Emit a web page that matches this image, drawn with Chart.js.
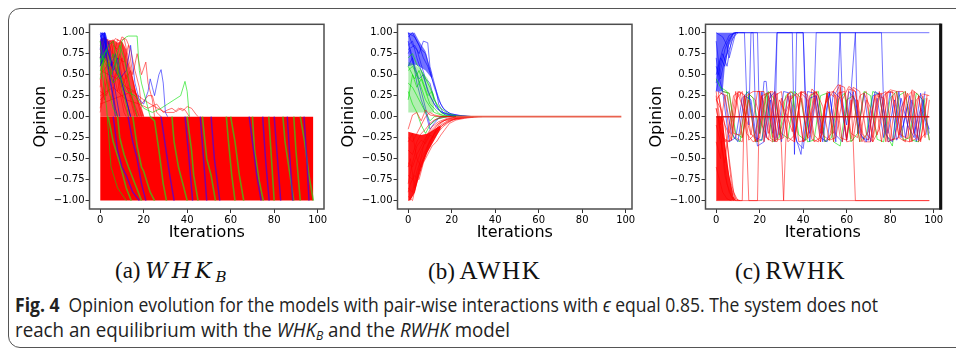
<!DOCTYPE html>
<html>
<head>
<meta charset="utf-8">
<script src="https://cdn.jsdelivr.net/npm/chart.js@4.4.1/dist/chart.umd.min.js"></script>
<style>
  html, body { margin: 0; padding: 0; background: #fff; }
  body { width: 956px; height: 350px; overflow: hidden; position: relative; }
  .frame { position: absolute; left: 8px; top: 8px; width: 1000px; height: 338px; border: 1.5px solid #555; border-radius: 12px; }
  .panel { position: absolute; top: 0; width: 309px; height: 250px; }
  .sub { position: absolute; top: 257px; font-family: "Liberation Serif", "DejaVu Serif", serif; font-size: 23px; line-height: 28px; color: #111; white-space: nowrap; }
  .sub .m { font-family: "DejaVu Serif", serif; font-style: italic; font-size: 22px; }
  .sub .rm { font-size: 25px; }
  .sub sub { font-family: "DejaVu Serif", serif; font-size: 15px; vertical-align: -4px; line-height: 0; font-style: italic; }
  .cap { position: absolute; left: 15px; font-family: "Open Sans", sans-serif; font-size: 20px; line-height: 24px; color: #222; white-space: nowrap; transform-origin: 0 50%; }
  .cap sub { font-size: 13px; vertical-align: -3px; line-height: 0; }
</style>
</head>
<body>
<div class="frame"></div>
<div class="panel" style="left:29px"><canvas id="chartA" width="309" height="250"></canvas></div>
<div class="panel" style="left:337px"><canvas id="chartB" width="309" height="250"></canvas></div>
<div class="panel" style="left:645px"><canvas id="chartC" width="309" height="250"></canvas></div>

<div class="sub" id="subA" style="left:115px">(a)&#8201;<span class="m" id="subAm">WHK</span><sub>B</sub></div>
<div class="sub" id="subB" style="left:428px">(b)&#8201;<span class="rm" id="subBm">AWHK</span></div>
<div class="sub" id="subC" style="left:735px">(c)&#8201;<span class="rm" id="subCm">RWHK</span></div>

<div class="cap" id="cap1" style="top:293px"><b>Fig. 4</b>&nbsp; Opinion evolution for the models with pair-wise interactions with <i>ϵ</i> equal 0.85. The system does not</div>
<div class="cap" id="cap2" style="top:318px">reach an equilibrium with the <i>WHK<sub>B</sub></i> and the <i>RWHK</i> model</div>

<script>
// axes
const xTicks = [0, 20, 40, 60, 80, 100]
const yTicks = [-1, -0.75, -0.5, -0.25, 0, 0.25, 0.5, 0.75, 1]
const xRange = [-4.9, 102.9]
const yRange = [-1.1, 1.1]

// ---- (a) WHK_B ----
const aBlockTop = [[0, 0], [98, 0]]
const aBlockBottom = [[0, -1], [98, -1]]
const aRedBulkTop = [[0,0.92],[2,0.95],[4,0.9],[6,0.92],[8,0.88],[10,0.9],[12,0.8],[13,0.65],[15,0.45],[17,0.25],[19,0.08],[20,0]]
const aRedBulkBottom = [[0,0],[20,0]]
const aBlueBulkTop = [[0,1],[2.5,1],[3.5,0.9]]
const aBlueBulkBottom = [[0,0.6],[2.5,0.7],[3.5,0.9]]
const aRed = [
  [[0,0.35],[1,0.55],[3,0.92],[5,0.9],[7,0.6],[9,0.3],[11,0.05],[12,0]],
  [[0,0.7],[2,0.95],[4,0.85],[6,0.9],[8,0.75],[10,0.5],[12,0.2],[14,0]],
  [[0,0.1],[2,0.4],[4,0.88],[6,0.7],[8,0.92],[10,0.88],[12,0.6],[14,0.3],[16,0.1],[17,0]],
  [[0,0.5],[3,0.6],[5,0.85],[7,0.93],[9,0.9],[11,0.93],[13,0.7],[15,0.45],[17,0.2],[19,0]],
  [[0,0.85],[1,0.9],[3,0.7],[5,0.5],[7,0.75],[9,0.4],[11,0.15],[13,0]],
  [[0,0.2],[4,0.3],[6,0.85],[8,0.8],[10,0.95],[12,0.92],[14,0.8],[16,0.55],[18,0.35],[19,0.1],[20,0]],
  [[0,0.6],[2,0.75],[4,0.55],[6,0.4],[8,0.6],[10,0.35],[12,0.5],[14,0.25],[16,0.05],[17,0]],
  [[0,0.45],[2,0.2],[4,0.65],[6,0.35],[7,0.1],[8,0]],
  [[0,0.9],[2,0.8],[4,0.6],[6,0.65],[8,0.5],[10,0.7],[12,0.45],[14,0.55],[16,0.3],[18,0.15],[20,0]],
  [[0,0.3],[3,0.25],[5,0.6],[8,0.7],[11,0.65],[13,0.85],[15,0.5],[17,0.75],[19,0.5],[21,0.65],[22,0.4],[24,0.2],[25,0]],
  [[0,0.55],[4,0.5],[8,0.45],[12,0.35],[16,0.3],[19,0.15],[22,0.25],[24,0.25],[26,0.05],[28,0]],
  [[0,0.15],[5,0.2],[10,0.25],[15,0.3],[20,0.2],[25,0.12],[30,0.05],[34,0.05],[36,0.1],[38,0.07],[40,0.12],[42,0.1],[44,0.03],[45,0]],
  [[0,0.8],[2,0.65],[4,0.8],[6,0.55],[8,0.3],[10,0.5],[12,0.35],[15,0.2],[18,0]],
  [[0,0.05],[3,0.45],[5,0.2],[7,0.45],[9,0.75],[11,0.55],[13,0.3],[15,0.1],[16,0]],
  [[0,0.25],[6,0.35],[12,0.2],[18,0.15],[22,0.1],[26,0.15],[29,0.05],[31,0.08],[33,0.1],[35,0.06],[37,0.1],[39,0.08],[41,0]]
]
const aGreen = [
  [[0,0.55],[2,0.7],[4,0.6],[6,0.75],[8,0.5],[10,0.9],[12,0.95],[13,0.96],[17,0.96],[18,0.55],[19,0.4],[21,0.2],[23,0]],
  [[0,0.75],[3,0.6],[6,0.4],[9,0.5],[12,0.3],[16,0.25],[20,0.1],[24,0.05],[28,0.1],[31,0.15],[34,0.2],[37,0.25],[39,0.42],[40,0.3],[41,0]],
  [[0,0.9],[2,0.55],[4,0.3],[6,0.1],[8,0]],
  [[0,0.45],[2,0.75],[4,0.85],[6,0.9],[8,0.6],[10,0.35],[12,0.15],[13,0]],
  [[0,0.65],[3,0.8],[5,0.5],[7,0.65],[9,0.85],[11,0.7],[13,0.45],[15,0.2],[17,0]],
  [[0,0.7],[1,0.5],[3,0.1],[5,-0.6],[8,-0.85],[12,-1]]
]
const aBlue = [
  [[0,1],[1,0.98],[2,0.95],[3,0.7],[5,0.4],[7,0.1],[8,0]],
  [[0,0.95],[2,1],[3,0.85],[5,0.6],[7,0.75],[9,0.5],[11,0.3],[13,0.1],[14,0]],
  [[0,0.8],[1,1],[2,0.97],[4,0.5],[6,0.2],[7,0]],
  [[0,0.6],[3,0.8],[6,0.6],[9,0.45],[12,0.55],[14,0.85],[16,0.4],[18,0.2],[20,0.15],[22,0.3],[23,0.45],[24,0.35],[25,0.25],[27,0.5],[28,0.56],[29,0.4],[30,0.05],[31,0]],
  [[0,0.7],[2,0.9],[4,0.75],[6,0.55],[8,0.7],[10,0.4],[12,0.2],[14,0]],
  [[0,0.98],[1,0.9],[2,1],[3,0.75],[4,0.9],[6,0.45],[8,0.15],[9,0]]
]
const aGreenDrops = [
  [[3.7,0],[6,-0.3],[9,-0.55],[12,-0.85],[14.3,-1],[22,null],[23,0],[25,-0.05],[27,-0.4],[29,-0.8],[30.5,-1]],
  [[40,0],[42,-0.4],[43,-0.7],[45,-1],[50,null],[58,0],[59,-0.3],[60.5,-0.7],[62,-1]],
  [[60,0],[62,-0.3],[64,-0.7],[66,-1],[70,null],[77.5,0],[78.5,-0.4],[80,-1]],
  [[89,0],[90,-0.4],[92,-1],[91,null],[92,0],[94,-0.3],[96,-0.7],[98,-1]],
  [[15,0],[17,-0.35],[19,-0.6],[20,-0.65],[23,-0.9],[25,-1],[45,null],[47,0],[49,-0.5],[51,-0.7],[53,-1]],
  [[8,0],[9,-0.25],[11,-0.45],[13,-0.6],[16,-0.8],[19,-1],[25,null],[33,0],[34,-0.3],[36,-0.6],[38,-0.8],[40,-1]],
  [[70,0],[71,-0.4],[73,-0.75],[75,-1],[80,null],[84,0],[85,-0.3],[87,-0.65],[89,-1]]
]
const aBlueDrops = [
  [[12.8,0],[15,-0.3],[17,-0.5],[19,-0.8],[21,-1],[25,null],[28,0],[30,-0.35],[32,-0.7],[34,-1]],
  [[39,0],[40.5,-0.4],[42.5,-1],[45,null],[51,0],[52.5,-0.5],[55,-1]],
  [[68.5,0],[70,-0.3],[72,-0.7],[74,-1],[74.5,null],[74.7,0],[76,-0.5],[77.7,-1]],
  [[80,0],[81.5,-0.5],[83,-1],[88,null],[93.7,0],[95,-0.5],[96,-1]],
  [[6,0],[8,-0.4],[10,-0.6],[12,-0.7],[15,-0.9],[18,-1],[30,null],[46,0],[47.5,-0.5],[49,-1],[60,null],[86,0],[87,-0.4],[88.5,-1]]
]

// ---- (b) AWHK ----
const bBlueBulkTop = [[0,1],[3,1],[5,0.9],[8,0.78],[11,0.5]]
const bBlueBulkBottom = [[0,0.6],[3,0.62],[5,0.6],[8,0.55],[11,0.45]]
const bGreenBulkTop = [[0,0.65],[3,0.62],[6,0.55],[9,0.45],[12,0.25]]
const bGreenBulkBottom = [[0,0.05],[3,0.05],[6,0.05],[9,0.05],[12,0.05]]
const bRedBulkTop = [[0,-0.18],[3,-0.2],[6,-0.22],[9,-0.2],[12,-0.15],[15,-0.1]]
const bRedBulkBottom = [[0,-1],[1,-1],[3,-0.9],[5,-0.72],[7,-0.55],[9,-0.42],[12,-0.28],[15,-0.14]]
const bBlue = [
  [[0,1],[1,0.98],[3,0.95],[5,0.85],[7,0.7],[9,0.6],[11,0.45],[13,0.3],[15,0.15],[17,0.07],[20,0.03],[25,0.01],[30,0]],
  [[0,0.95],[2,1],[4,0.9],[6,0.8],[8,0.75],[10,0.55],[12,0.35],[14,0.2],[16,0.1],[19,0.04],[24,0.01],[30,0]],
  [[0,0.85],[2,0.9],[4,0.7],[6,0.55],[8,0.4],[10,0.25],[12,0.15],[15,0.06],[20,0.02],[28,0]],
  [[0,0.75],[1,0.8],[3,0.6],[5,0.45],[7,0.5],[9,0.3],[11,0.2],[13,0.1],[16,0.04],[22,0.01],[28,0]],
  [[0,0.9],[2,0.65],[4,0.5],[6,0.3],[8,0.1],[10,-0.1],[12,-0.05],[15,0],[20,0.01],[26,0]],
  [[0,0.6],[2,0.7],[4,0.4],[6,0.2],[8,0.05],[10,-0.15],[12,-0.08],[14,-0.02],[18,0],[25,0]],
  [[0,1],[2,0.85],[4,0.8],[6,0.62],[8,0.45],[10,0.4],[12,0.2],[14,0.08],[17,0.02],[24,0]],
  [[0,0.8],[3,0.85],[5,0.75],[7,0.9],[9,0.88],[10,0.6],[12,0.4],[13,0.3],[14,0.15],[16,0.05],[20,0.01],[26,0]]
]
const bGreen = [
  [[0,0.55],[2,0.6],[4,0.5],[6,0.35],[8,0.2],[10,0.12],[12,0.05],[15,0.02],[20,0],[30,0]],
  [[0,0.7],[2,0.75],[4,0.62],[6,0.55],[8,0.45],[10,0.35],[12,0.2],[14,0.12],[16,0.08],[18,0.04],[22,0.01],[30,0]],
  [[0,0.4],[2,0.35],[4,0.25],[6,0.15],[8,0.05],[10,-0.05],[12,0],[18,0]],
  [[0,0.3],[2,0.15],[4,0.05],[6,-0.1],[8,-0.2],[10,-0.1],[13,-0.03],[18,0]],
  [[0,0.6],[3,0.45],[5,0.55],[7,0.4],[9,0.25],[11,0.3],[13,0.15],[15,0.05],[18,0.01],[24,0]],
  [[0,0.2],[2,0.5],[4,0.35],[6,0.45],[8,0.3],[10,0.15],[12,0.1],[14,0.04],[17,0],[20,0]]
]
const bRed = [
  [[0,-1],[1,-0.98],[3,-0.9],[5,-0.65],[7,-0.5],[9,-0.35],[11,-0.25],[13,-0.15],[15,-0.1],[18,-0.05],[22,-0.02],[28,0]],
  [[0,-0.95],[2,-1],[4,-0.75],[6,-0.55],[8,-0.45],[10,-0.3],[12,-0.2],[15,-0.12],[18,-0.06],[22,-0.03],[30,0]],
  [[0,-0.85],[2,-0.9],[4,-0.65],[6,-0.5],[8,-0.4],[10,-0.28],[13,-0.18],[16,-0.1],[20,-0.04],[26,-0.01],[34,0]],
  [[0,-0.7],[2,-0.75],[4,-0.55],[6,-0.4],[8,-0.3],[10,-0.2],[12,-0.15],[14,-0.08],[18,-0.03],[25,0]],
  [[0,-0.55],[2,-0.6],[4,-0.45],[6,-0.35],[8,-0.25],[10,-0.18],[13,-0.1],[16,-0.05],[22,-0.02],[30,0]],
  [[0,-0.4],[2,-0.45],[4,-0.3],[6,-0.2],[8,-0.15],[10,-0.08],[12,-0.04],[16,0],[22,0]],
  [[0,-0.25],[2,-0.3],[4,-0.2],[6,-0.1],[8,0],[10,0.05],[12,0.02],[16,0],[20,0]],
  [[0,-0.15],[2,0.02],[4,0.05],[6,-0.05],[8,0.08],[10,0.02],[14,0],[20,0]],
  [[0,-0.9],[1,-0.8],[3,-0.7],[5,-0.75],[7,-0.55],[9,-0.45],[11,-0.35],[13,-0.3],[15,-0.22],[17,-0.15],[19,-0.08],[22,-0.04],[26,-0.02],[32,0]],
  [[0,-0.6],[1,-0.5],[3,-0.85],[5,-0.6],[7,-0.35],[9,-0.2],[11,-0.12],[14,-0.06],[18,-0.02],[24,0]],
  [[0,-0.8],[2,-0.55],[4,-0.35],[6,-0.28],[8,-0.32],[10,-0.22],[12,-0.25],[14,-0.18],[16,-0.12],[18,-0.08],[21,-0.03],[26,0]],
  [[0,-0.3],[2,-0.2],[4,-0.5],[6,-0.6],[8,-0.45],[10,-0.35],[12,-0.2],[14,-0.1],[17,-0.04],[22,0]]
]
const bSettled = [[22, 0], [98, 0]]

// ---- (c) RWHK ----
const cBlueBulkTop = [[0,1],[9,1]]
const cBlueBulkBottom = [[0,0.3],[3,0.3],[4,0.6],[6,0.85],[8,0.97],[9,1]]
const cRedBulkTop = [[0,0],[3,0],[4,-0.3],[6,-0.7],[8,-0.95],[9,-1]]
const cRedBulkBottom = [[0,-1],[9,-1]]
const cZero = [[0,0],[98,0]]
const cBlueStart = [
  [[0,0.3],[2,0.55],[4,0.8],[6,0.93],[8,0.99],[9,1],[98,1]],
  [[0,0.7],[1,0.5],[3,0.75],[5,0.6],[7,0.9],[9,1],[10,1]],
  [[0,0.9],[2,0.45],[4,0.7],[6,0.8],[8,0.95],[10,1]],
  [[0,1],[3,0.95],[5,0.85],[6,0.7],[8,0.9],[9,1]]
]
const cRedStart = [
  [[0,0.25],[1,0],[3,-0.4],[5,-0.8],[7,-0.95],[9,-1],[98,-1]],
  [[0,0.1],[2,-0.2],[4,-0.7],[6,-0.9],[8,-1]],
  [[0,-0.3],[2,-0.5],[3,-0.2],[5,-0.6],[7,-0.85],[9,-1]],
  [[0,-0.6],[1,-0.7],[3,-0.9],[5,-0.98],[7,-1]],
  [[0,0.2],[2,0.1],[4,-0.1],[6,-0.5],[8,-0.9],[10,-1]],
  [[0,-0.1],[2,-0.3],[4,-0.55],[5,-0.3],[7,-0.8],[9,-0.98],[11,-1]]
]
const cBlueHop = [
  [[0,0.5],[3,0.8],[6,0.97],[9,1],[13,1],[14,0.25],[15,-0.1],[16,1],[19,1],[20,-0.2],[22,0.42],[23,0.42],[24,0.1],[26,-0.2],[28,1],[35,1],[36,-0.45],[37,1],[40,1],[41,0.1],[43,-0.2],[45,0.2],[46,1],[57,1],[58,0.2],[60,-0.1],[62,0.3],[64,1],[76,1],[77,0.1],[79,-0.2],[82,0.2],[85,-0.25],[88,0.15],[91,-0.2],[94,0.1],[98,-0.15]],
  [[0,0.4],[2,0.7],[4,0.6],[6,0.9],[8,1],[17,1],[18,0.1],[19,-0.3],[21,0.3],[23,-0.25],[25,0.2],[27,-0.3],[28,1],[40,1],[41,0.3],[43,-0.3],[46,0.25],[49,-0.2],[52,0.3],[55,-0.3],[57,1],[64,1],[65,-0.2],[68,0.28],[71,-0.3],[74,0.22],[77,-0.25],[80,0.3],[83,-0.28],[86,-0.1],[89,0.25],[92,-0.3],[95,0.2],[98,-0.2]]
]
const cRedHop = [
  [[0,-1],[12,-1],[13,0.25],[14,-0.28],[15,-1],[19,-1],[20,0.3],[22,-0.3],[24,0.25],[26,-0.25],[28,0.28],[30,-0.35],[31,-1],[32,-0.3],[34,0.25],[36,-0.28],[39,0.3],[42,-0.25],[45,0.22],[48,-0.3],[51,0.28],[54,-0.2],[57,0.3],[60,-0.28],[63,0.25],[66,-0.3],[69,0.2],[72,-0.25],[75,0.3],[78,-0.3],[81,0.25],[84,-0.22],[87,0.3],[90,-0.3],[93,0.25],[96,-0.25],[98,0.2]],
  [[0,0.3],[2,-0.1],[4,0.25],[6,-0.2],[9,0.3],[12,-0.25],[15,0.2],[18,-0.3],[21,0.25],[24,-0.2],[27,0.3],[30,-0.25],[33,0.28],[36,-0.3],[39,0.22],[42,-0.25],[45,0.3],[48,-0.2],[51,0.25],[54,-0.3],[57,0.35],[60,-0.25],[62,0.2],[63,-0.3],[64,-1],[98,-1]]
]
const cGridA = [2,5,8,11,14,17,20,23,26,29,32,35,38,41,44,47,50,53,56,59,62,65,68,71,74,77,80,83,86,89,92,95,98]
const cGridB = [1,4,7,10,13,16,19,22,25,28,31,34,37,40,43,46,49,52,55,58,61,64,67,70,73,76,79,82,85,88,91,94,97]
const cGridC = [0,3,6,9,12,15,18,21,24,27,30,33,36,39,42,45,48,51,54,57,60,63,66,69,72,75,78,81,84,87,90,93,96]
const cRedBand1 = [0.28,0.25,-0.2,-0.22,0.25,0.3,0.3,-0.25,-0.3,0.2,0.05,-0.18,0.28,0.3,-0.27,-0.3,0.15,0.27,0.38,0.35,-0.2,-0.25,0.28,0.1,-0.22,0.25,0.32,0.3,-0.28,-0.3,0.2,0.27,0.25]
const cRedBand2 = [0.3,-0.3,-0.28,0.28,0.05,-0.22,0.3,0.3,-0.26,-0.3,0.18,0.3,0.24,-0.3,-0.24,0.3,0.12,-0.28,-0.25,0.2,0.36,0.3,-0.3,-0.18,0.25,0.28,-0.3,-0.26,0.1,0.28,-0.2,-0.28,0.22]
const cRedBand3 = [0.2,0.3,0.28,-0.25,-0.3,0.27,0.2,-0.1,-0.28,0.25,0.3,-0.3,-0.22,0.28,0.2,-0.3,-0.25,0.3,0.24,0.38,-0.3,-0.28,0.25,0.3,-0.3,-0.15,0.28,0.3,-0.25,-0.3,0.32,0.26,-0.22]
const cRedBand4 = [-0.3,-0.28,0.25,0.3,-0.2,-0.3,-0.25,0.28,0.3,-0.22,0.05,0.26,-0.3,-0.28,0.33,0.25,-0.3,-0.2,0.28,0.3,-0.27,0.2,-0.3,-0.3,0.25,0.22,-0.28,0.3,0.3,-0.3,-0.26,0.25,-0.28]
const cRedBand5 = [0.25,-0.1,-0.28,0.3,0.26,-0.2,-0.3,0.22,0.3,-0.28,-0.25,0.2,0.28,-0.3,0.25,0.3,-0.22,-0.28,0.26,-0.3,0.33,0.3,-0.2,-0.28,0.25,-0.3,0.3,0.28,-0.22,-0.26,0.3,-0.3,0.26]
const cRedBand6 = [0.1,-0.25,-0.3,0.2,0.3,-0.28,-0.2,0.25,0.28,-0.3,0.22,-0.25,-0.3,0.3,0.26,-0.22,-0.3,0.28,0.3,-0.25,-0.28,0.35,0.3,-0.2,-0.3,0.25,0.3,-0.28,-0.25,0.22,0.3,-0.3,-0.2]
const cGreenBand1 = [0.45,0.3,0.28,-0.2,-0.25,0.25,-0.3,-0.28,0.3,0.2,-0.2,-0.26,0.3,0.22,-0.3,-0.28,0.25,0.28,-0.3,-0.35,0.2,0.25,-0.3,-0.22,0.3,0.26,-0.2,-0.35,0.25,0.3,-0.28,-0.3,0.22]
const cGreenBand2 = [0.35,0.3,-0.25,-0.3,0.3,0.22,-0.2,0.28,-0.3,-0.25,0.25,0.3,-0.22,-0.28,0.26,0.3,-0.3,-0.25,0.2,0.28,-0.3,-0.2,0.3,0.25,-0.27,-0.3,0.22,0.3,-0.28,-0.25,0.28,0.2,-0.28]
const cBlueBand1 = [0.3,0.25,-0.2,-0.3,0.25,0.2,-0.35,-0.3,0.28,-0.26,0.3,0.28,-0.3,-0.38,0.22,0.25,-0.3,0.28,-0.22,-0.3,0.3,0.2,-0.25,-0.28,0.3,0.25,-0.3,-0.26,0.22,-0.1,-0.25,0.28,-0.22]
const cBlueBand2 = [0.6,0.3,-0.3,-0.25,0.22,0.3,-0.25,-0.28,0.2,0.3,-0.3,0.25,-0.2,-0.45,0.3,0.28,-0.25,-0.3,0.3,0.22,-0.28,0.3,-0.2,-0.3,0.25,0.28,-0.22,-0.3,0.3,-0.25,0.2,-0.28,0.3]

// colours
const BLUE = 'rgba(0,0,255,0.55)'
const GREEN = 'rgba(0,225,0,0.6)'
const RED = 'rgba(255,0,0,0.55)'

const tickFont = { family: 'DejaVu Sans', size: 10 }
const titleFont = { family: 'DejaVu Sans', size: 16 }

function zip(xs, ys) { return xs.map((x, i) => [x, ys[i]]) }

function line(points, color, width) {
  return { data: points, borderColor: color, borderWidth: width || 1, pointRadius: 0, fill: false, tension: 0, spanGaps: false }
}

function area(top, bottom, color) {
  return [
    { data: top, borderWidth: 0, borderColor: 'rgba(0,0,0,0)', pointRadius: 0, backgroundColor: color, fill: '+1' },
    { data: bottom, borderWidth: 0, borderColor: 'rgba(0,0,0,0)', pointRadius: 0, fill: false }
  ]
}

function fmt(v) {
  return (v < 0 ? '\u2212' : '') + Math.abs(v).toFixed(2)
}

// box around the plot area, like matplotlib spines
const framePlugin = {
  id: 'frame',
  afterDatasetsDraw(chart, args, opts) {
    const { ctx, chartArea: a } = chart
    ctx.save()
    ctx.strokeStyle = '#4d4d4d'
    ctx.lineWidth = 1.5
    ctx.strokeRect(a.left, a.top, a.right - a.left, a.bottom - a.top)
    if (opts.edge) {
      ctx.strokeStyle = '#111'
      ctx.lineWidth = opts.edge
      ctx.beginPath()
      ctx.moveTo(a.right + opts.edge / 2 - 0.75, a.top - 0.75)
      ctx.lineTo(a.right + opts.edge / 2 - 0.75, a.bottom + 0.75)
      ctx.stroke()
    }
    ctx.restore()
  }
}

function makeChart(id, datasets, edge) {
  // later datasets are drawn on top
  datasets.forEach((d, i) => { d.order = -i })
  return new Chart(document.getElementById(id), {
    type: 'line',
    data: { datasets: datasets },
    options: {
      responsive: false,
      animation: false,
      devicePixelRatio: 1,
      layout: { padding: { left: 0, top: 24.3, right: 14, bottom: 8 } },
      plugins: {
        legend: { display: false },
        tooltip: { enabled: false },
        frame: { edge: edge || 0 }
      },
      scales: {
        x: {
          type: 'linear',
          min: xRange[0],
          max: xRange[1],
          afterBuildTicks: s => { s.ticks = xTicks.map(v => ({ value: v })) },
          afterFit: s => { s.height = 33 },
          ticks: { font: tickFont, color: '#000', padding: 1, maxRotation: 0, autoSkip: false, callback: v => String(v) },
          grid: { drawOnChartArea: false, tickLength: 4, tickColor: '#333' },
          border: { display: false },
          title: { display: true, text: 'Iterations', font: titleFont, color: '#000', padding: 0 }
        },
        y: {
          type: 'linear',
          min: yRange[0],
          max: yRange[1],
          afterBuildTicks: s => { s.ticks = yTicks.map(v => ({ value: v })) },
          afterFit: s => { s.width = 60.5 },
          ticks: { font: tickFont, color: '#000', padding: 1, autoSkip: false, callback: v => fmt(v) },
          grid: { drawOnChartArea: false, tickLength: 4, tickColor: '#333' },
          border: { display: false },
          title: { display: true, text: 'Opinion', font: titleFont, color: '#000', padding: { top: 2.7, bottom: 0 } }
        }
      }
    },
    plugins: [framePlugin]
  })
}

// (a)
const dsA = []
dsA.push(...area(aBlockTop, aBlockBottom, 'rgb(255,0,0)'))
dsA.push(...area(aRedBulkTop, aRedBulkBottom, 'rgba(255,0,0,0.75)'))
aRed.forEach(p => dsA.push(line(p, RED)))
dsA.push(...area(aBlueBulkTop, aBlueBulkBottom, 'rgba(0,0,255,0.7)'))
aBlue.forEach(p => dsA.push(line(p, BLUE)))
aGreen.forEach(p => dsA.push(line(p, GREEN)))
aGreenDrops.forEach(p => dsA.push(line(p, 'rgba(60,200,20,0.75)', 1.6)))
aBlueDrops.forEach(p => dsA.push(line(p, 'rgba(70,0,230,0.7)', 1.5)))
makeChart('chartA', dsA)

// (b)
const dsB = []
dsB.push(...area(bBlueBulkTop, bBlueBulkBottom, 'rgba(0,0,255,0.55)'))
bBlue.forEach(p => dsB.push(line(p, BLUE)))
dsB.push(...area(bGreenBulkTop, bGreenBulkBottom, 'rgba(0,200,0,0.3)'))
bGreen.forEach(p => dsB.push(line(p, GREEN)))
dsB.push(...area(bRedBulkTop, bRedBulkBottom, 'rgba(255,0,0,0.9)'))
bRed.forEach(p => dsB.push(line(p, RED)))
dsB.push(line(bSettled, 'rgba(232,90,70,0.95)', 1.6))
makeChart('chartB', dsB)

// (c)
const dsC = []
dsC.push(...area(cBlueBulkTop, cBlueBulkBottom, 'rgba(0,0,255,0.6)'))
cBlueStart.forEach(p => dsC.push(line(p, BLUE)))
cBlueHop.forEach(p => dsC.push(line(p, BLUE)))
dsC.push(line(zip(cGridC, cRedBand3), RED))
dsC.push(line(zip(cGridA, cRedBand4), RED))
dsC.push(line(zip(cGridC, cGreenBand1), GREEN))
dsC.push(line(zip(cGridA, cGreenBand2), GREEN))
dsC.push(line(zip(cGridB, cBlueBand1), BLUE))
dsC.push(line(zip(cGridC, cBlueBand2), BLUE))
dsC.push(...area(cRedBulkTop, cRedBulkBottom, 'rgba(255,0,0,0.9)'))
cRedStart.forEach(p => dsC.push(line(p, RED)))
dsC.push(line(zip(cGridA, cRedBand1), RED))
dsC.push(line(zip(cGridB, cRedBand2), RED))
dsC.push(line(zip(cGridB, cRedBand5), RED))
dsC.push(line(zip(cGridC, cRedBand6), RED))
cRedHop.forEach(p => dsC.push(line(p, RED)))
dsC.push(line(cZero, 'rgba(210,10,10,0.9)', 1.5))
makeChart('chartC', dsC, 3)

// captions: the label part of each sub-caption gets a little letter spacing,
// the figure caption is squeezed to the width seen in the figure
function fitSpacing(id, innerId, w, maxGap) {
  const el = document.getElementById(id)
  const inner = document.getElementById(innerId)
  const n = inner.textContent.length
  const r = el.getBoundingClientRect().width
  inner.style.letterSpacing = Math.min(maxGap, Math.max(0, (w - r) / n)) + 'px'
}
function fitWidth(id, w) {
  const el = document.getElementById(id)
  const r = el.getBoundingClientRect().width
  el.style.transform = 'scaleX(' + (w / r) + ')'
}
function fitAll() {
  fitSpacing('subA', 'subAm', 120, 4)
  fitSpacing('subB', 'subBm', 115, 1.5)
  fitSpacing('subC', 'subCm', 116, 1.5)
  fitWidth('cap1', 863)
  fitWidth('cap2', 495)
}
if (document.fonts && document.fonts.ready) {
  document.fonts.ready.then(fitAll)
} else {
  fitAll()
}
</script>
</body>
</html>
